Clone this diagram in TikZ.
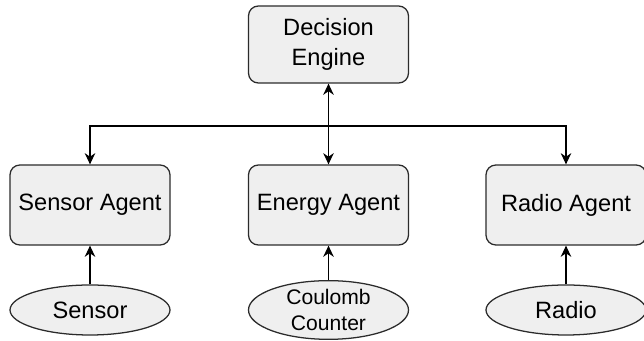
\documentclass[tikz,border=0pt]{standalone}
\usepackage{fontspec}
\setmainfont{Liberation Sans}
\usetikzlibrary{arrows.meta,shapes.geometric}
\definecolor{boxfill}{HTML}{EFEFEF}
\definecolor{boxline}{HTML}{2B2B2B}

\begin{document}
\begin{tikzpicture}[
    >={Stealth[length=8pt,width=7.5pt]},
    agent/.style={rectangle, rounded corners=7pt, draw=boxline, fill=boxfill, line width=0.9pt,
                  minimum width=4cm, minimum height=2cm, align=center, font=\fontsize{16.8}{20}\selectfont},
    device/.style={ellipse, draw=boxline, fill=boxfill, line width=0.9pt, inner sep=0pt,
                   minimum width=4cm, minimum height=1.25cm, align=center, font=\fontsize{16.8}{20}\selectfont},
    link/.style={draw=black, line width=0.9pt}
]
    \useasboundingbox (0,0) rectangle (16.1,8.525);

    % ノードの定義
    \node[agent, minimum height=1.925cm, font=\fontsize{16.8}{21.5}\selectfont] (DE) at (8.2125, 7.4125) {Decision\\Engine};
    \node[agent] (SA) at (2.25, 3.4) {Sensor Agent};
    \node[agent] (EA) at (8.2125, 3.4) {Energy Agent};
    \node[agent] (RA) at (14.15, 3.4) {Radio Agent};

    % デバイス
    \node[device] (S) at (2.25, 0.775) {Sensor};
    \node[device, font=\fontsize{15}{18.5}\selectfont] (CC) at (8.2125, 0.775) {Coulomb\\Counter};
    \node[device] (R) at (14.15, 0.775) {Radio};

    % 分岐点
    \coordinate (bus) at (8.2125, 5.375);

    % エッジの定義
    \draw[link, <->] (DE) -- (EA);
    \draw[link, ->] (bus) -| (SA);
    \draw[link, ->] (bus) -| (RA);
    \draw[link, ->] (S) -- (SA);
    \draw[link, ->] (CC) -- (EA);
    \draw[link, ->] (R) -- (RA);
\end{tikzpicture}
\end{document}
